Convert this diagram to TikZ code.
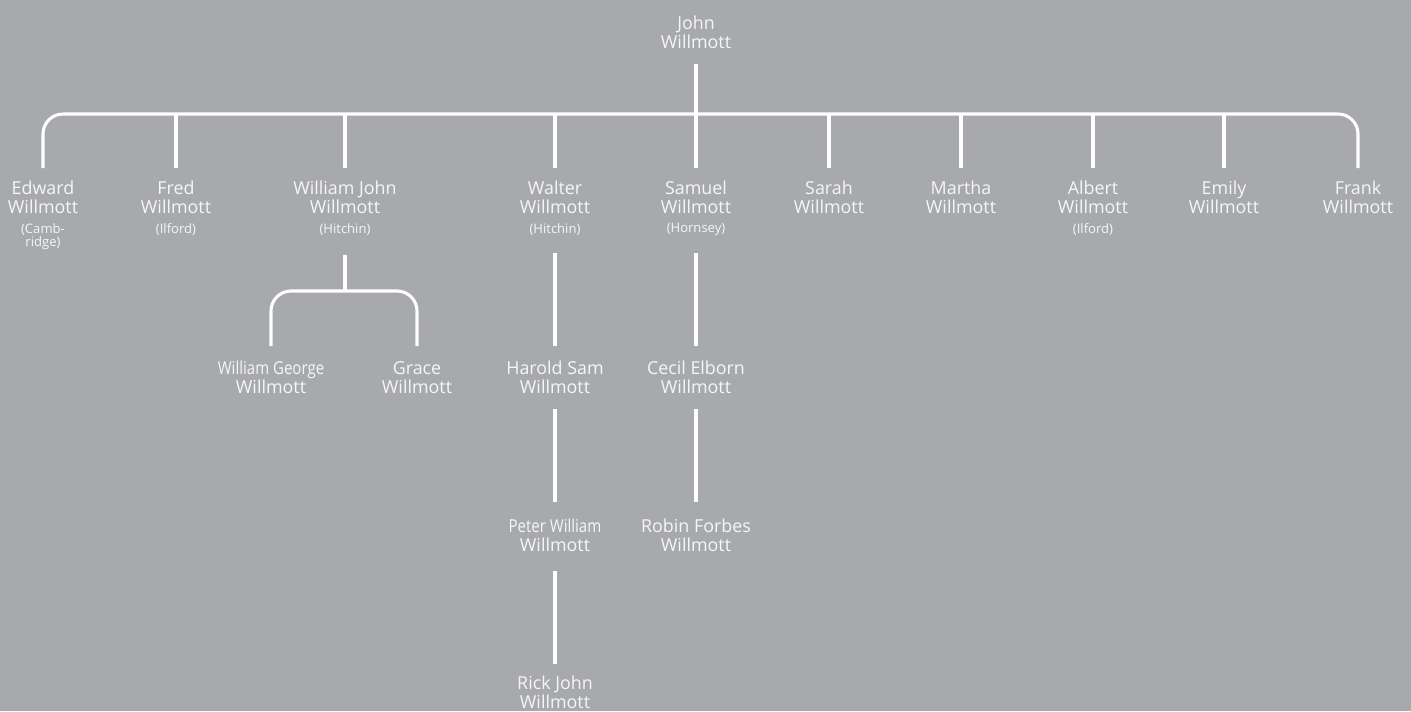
\documentclass[tikz,border=0pt]{standalone}
\usepackage{fontspec}
\setmainfont{Open Sans}
\usetikzlibrary{calc}
\definecolor{bg}{HTML}{A8A9AD}
\definecolor{txt}{HTML}{F6F6F7}
\begin{document}
\begin{tikzpicture}[x=0.75pt,y=-0.75pt,
  person/.style={align=center, text=txt, inner sep=0pt, anchor=north,
    font=\fontsize{13.4}{14.3}\selectfont},
  loc/.style={text=txt, inner sep=0pt, align=center, font=\fontsize{9.8}{8.6}\selectfont},
  link/.style={draw=white, line width=2.3pt},
  every label/.style={loc},
  label distance=6.5pt]
\useasboundingbox[fill=bg] (0,0) rectangle (1411,711);

% generation 1
\node[person] (john) at (696,16) {John\\Willmott};
% generation 2
\node[person, label=below:{(Camb-\\ridge)}] (edward) at (43,181) {Edward\\Willmott};
\node[person, label=below:(Ilford)] (fred) at (176,181) {Fred\\Willmott};
\node[person, label=below:(Hitchin)] (wj) at (345,181) {William John\\Willmott};
\node[person, label=below:(Hitchin)] (walter) at (555,181) {Walter\\Willmott};
\node[person, label=below:(Hornsey)] (samuel) at (696,181) {Samuel\\Willmott};
\node[person] (sarah) at (829,181) {Sarah\\Willmott};
\node[person] (martha) at (961,181) {Martha\\Willmott};
\node[person, label=below:(Ilford)] (albert) at (1093,181) {Albert\\Willmott};
\node[person] (emily) at (1224,181) {Emily\\Willmott};
\node[person] (frank) at (1358,181) {Frank\\Willmott};
% generation 3
\node[person] (wg) at (271,361) {{\addfontfeature{FakeStretch=0.84}William George}\\Willmott};
\node[person] (grace) at (417,361) {Grace\\Willmott};
\node[person] (harold) at (555,361) {Harold Sam\\Willmott};
\node[person] (cecil) at (696,361) {Cecil Elborn\\Willmott};
% generation 4
\node[person] (peter) at (555,519) {{\addfontfeature{FakeStretch=0.84}Peter William}\\Willmott};
\node[person] (robin) at (696,519) {Robin Forbes\\Willmott};
% generation 5
\node[person] (rick) at (555,676) {Rick John\\Willmott};

% connectors
\coordinate (bar) at (696,114);
\coordinate (wbar) at (345,291);
\draw[link] ($(john.north)+(0,48)$) -- (bar);
\draw[link, rounded corners=15pt] ($(edward.north)+(0,-13)$) |- (bar) -| ($(frank.north)+(0,-13)$);
\foreach \c in {fred,wj,walter,samuel,sarah,martha,albert,emily}
  \draw[link] (\c.north |- bar) -- ($(\c.north)+(0,-13)$);

\draw[link] ($(wj.north)+(0,74)$) -- (wbar);
\draw[link, rounded corners=15pt] ($(wg.north)+(0,-15)$) |- (wbar) -| ($(grace.north)+(0,-15)$);

\draw[link] ($(walter.north)+(0,72)$) -- ($(harold.north)+(0,-15)$);
\draw[link] ($(samuel.north)+(0,72)$) -- ($(cecil.north)+(0,-15)$);
\draw[link] ($(harold.north)+(0,48)$) -- ($(peter.north)+(0,-17)$);
\draw[link] ($(cecil.north)+(0,48)$) -- ($(robin.north)+(0,-17)$);
\draw[link] ($(peter.north)+(0,52)$) -- ($(rick.north)+(0,-12)$);
\end{tikzpicture}
\end{document}
